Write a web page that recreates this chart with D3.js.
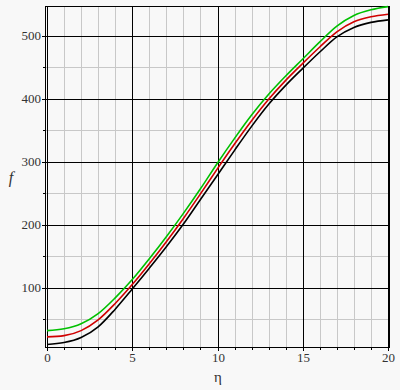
<!DOCTYPE html>
<html>
<head>
<meta charset="utf-8">
<script src="https://cdn.jsdelivr.net/npm/d3@7"></script>
<style>
  html, body { margin: 0; padding: 0; background: #f8f8f8; }
  svg { display: block; }
  .lbl { font-family: "Liberation Serif", "Times New Roman", serif; font-size: 13px; fill: #333; }
</style>
</head>
<body>
<svg id="chart" width="400" height="390"></svg>
<script>
// eta values 0..20
const eta = [0,1,2,3,4,5,6,7,8,9,10,11,12,13,14,15,16,17,18,19,20];
// three curves
const fGreen = [32,35,43,59,84,113,146,181,218,257,298,337,374,407,436,463,490,515,532,541,546];
const fRed   = [22,24,32,49,75,105,138,173,210,249,289,328,365,399,429,456,482,506,522,530,534];
const fBlack = [10,13,21,38,66,98,131,165,201,240,279,318,356,391,421,448,474,498,513,521,525];

const xTicks = [0,5,10,15,20];
const yTicks = [100,200,300,400,500];
const xMinor = d3.range(0, 21, 1);
const yMinor = [50,150,250,350,450];

const svg = d3.select("#chart");
const x = d3.scaleLinear().domain([0, 20]).range([47, 388]);
const y = d3.scaleLinear().domain([6, 547]).range([347, 6]);

svg.append("rect").attr("width", 400).attr("height", 390).attr("fill", "#f8f8f8");

// minor grid
svg.append("g").selectAll("line").data(xMinor.filter(d => d % 5 !== 0)).join("line")
    .attr("x1", d => Math.round(x(d)) + 0.5).attr("x2", d => Math.round(x(d)) + 0.5)
    .attr("y1", 6).attr("y2", 347)
    .attr("stroke", "#c8c8c8");
svg.append("g").selectAll("line").data(yMinor).join("line")
    .attr("x1", 46).attr("x2", 389)
    .attr("y1", d => Math.round(y(d)) + 0.5).attr("y2", d => Math.round(y(d)) + 0.5)
    .attr("stroke", "#c8c8c8");
// black tick stubs for minor lines
svg.append("g").selectAll("line").data(xMinor.filter(d => d % 5 !== 0)).join("line")
    .attr("x1", d => Math.round(x(d)) + 0.5).attr("x2", d => Math.round(x(d)) + 0.5)
    .attr("y1", 347).attr("y2", 350).attr("stroke", "#000");
svg.append("g").selectAll("line").data(yMinor).join("line")
    .attr("x1", 43).attr("x2", 46)
    .attr("y1", d => Math.round(y(d)) + 0.5).attr("y2", d => Math.round(y(d)) + 0.5)
    .attr("stroke", "#000");

// major grid
svg.append("g").selectAll("line").data(xTicks).join("line")
    .attr("x1", d => Math.round(x(d)) + 0.5).attr("x2", d => Math.round(x(d)) + 0.5)
    .attr("y1", 6).attr("y2", 351)
    .attr("stroke", "#000");
svg.append("g").selectAll("line").data(yTicks).join("line")
    .attr("x1", 42).attr("x2", 389)
    .attr("y1", d => Math.round(y(d)) + 0.5).attr("y2", d => Math.round(y(d)) + 0.5)
    .attr("stroke", "#000");

// frame
svg.append("line").attr("x1", 45.5).attr("x2", 45.5).attr("y1", 6).attr("y2", 348).attr("stroke", "#000");
svg.append("line").attr("x1", 45).attr("x2", 390).attr("y1", 6.5).attr("y2", 6.5).attr("stroke", "#000");
svg.append("line").attr("x1", 45).attr("x2", 390).attr("y1", 347.5).attr("y2", 347.5).attr("stroke", "#000");
svg.append("line").attr("x1", 389.5).attr("x2", 389.5).attr("y1", 6).attr("y2", 348).attr("stroke", "#000");

// tick labels
svg.append("g").selectAll("text").data(yTicks).join("text")
    .attr("class", "lbl")
    .attr("x", 41).attr("y", d => y(d) + 4.5)
    .attr("text-anchor", "end")
    .text(d => d);
svg.append("g").selectAll("text").data(xTicks).join("text")
    .attr("class", "lbl")
    .attr("x", d => Math.round(x(d)) + 0.5).attr("y", 362)
    .attr("text-anchor", "middle")
    .text(d => d);

// axis titles
svg.append("text").attr("x", 218).attr("y", 382).attr("text-anchor", "middle")
    .attr("class", "lbl").style("font-size", "15px")
    .text("η");
svg.append("text").attr("x", 11).attr("y", 183).attr("text-anchor", "middle")
    .attr("class", "lbl").style("font-size", "16px")
    .style("font-style", "italic")
    .text("f");

// curves
const series = [
  {vals: fBlack, color: "#000000"},
  {vals: fRed, color: "#d00000"},
  {vals: fGreen, color: "#00c000"}
];
const line = d3.line()
    .x((v, i) => x(eta[i]))
    .y(v => y(v))
    .curve(d3.curveMonotoneX);
svg.append("g").selectAll("path").data(series).join("path")
    .attr("d", d => line(d.vals))
    .attr("fill", "none")
    .attr("stroke", d => d.color)
    .attr("stroke-width", 1.6);
</script>
</body>
</html>
